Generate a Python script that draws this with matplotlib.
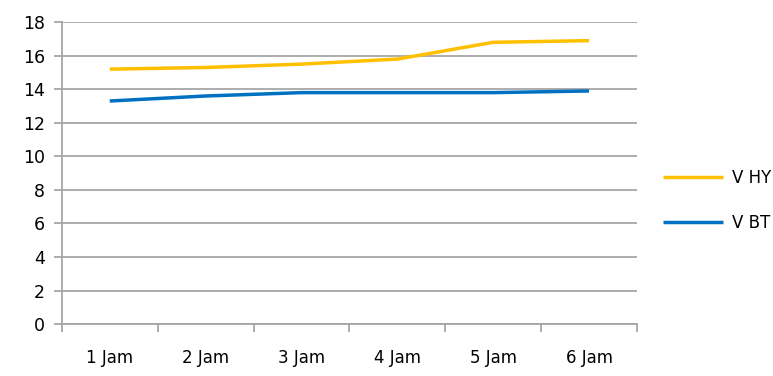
import matplotlib.pyplot as plt

# jam categories and the two series
jam = ["1 Jam", "2 Jam", "3 Jam", "4 Jam", "5 Jam", "6 Jam"]
v_hy = [15.2, 15.3, 15.5, 15.8, 16.8, 16.9]
v_bt = [13.3, 13.6, 13.8, 13.8, 13.8, 13.9]

fig = plt.figure(figsize=(7.73, 3.76), dpi=100)
ax = fig.add_axes([0.080, 0.138, 0.744, 0.803])

x = list(range(len(jam)))
ax.plot(x, v_hy, color="#FFC000", lw=2.5, label="V HY", solid_capstyle="butt")
ax.plot(x, v_bt, color="#0070C0", lw=2.5, label="V BT", solid_capstyle="butt")

ax.set_xlim(-0.5, len(jam) - 0.5)
ax.set_ylim(0, 18)
ax.set_yticks(range(0, 19, 2))
ax.yaxis.grid(True, color="#A6A6A6", lw=1.3)
ax.set_axisbelow(True)

# category ticks sit between the labels, like Excel
ax.set_xticks([i - 0.5 for i in range(len(jam) + 1)])
ax.set_xticklabels([])
ax.set_xticks(x, minor=True)
ax.set_xticklabels(jam, minor=True)
ax.tick_params(axis="x", which="minor", length=0, pad=18, labelsize=12)
ax.tick_params(axis="x", which="major", length=6, color="#A6A6A6", width=1.3)
ax.tick_params(axis="y", length=6, color="#A6A6A6", width=1.3, labelsize=12.5, pad=6)

for s in ["top", "right"]:
    ax.spines[s].set_visible(False)
ax.spines["left"].set_color("#A6A6A6")
ax.spines["bottom"].set_color("#A6A6A6")
ax.spines["left"].set_linewidth(1.3)
ax.spines["bottom"].set_linewidth(1.3)

ax.legend(loc="center left", bbox_to_anchor=(1.02, 0.41), frameon=False,
          fontsize=12, handlelength=3.6, labelspacing=1.6, handletextpad=0.5)

fig.savefig("out.png", dpi=100)
